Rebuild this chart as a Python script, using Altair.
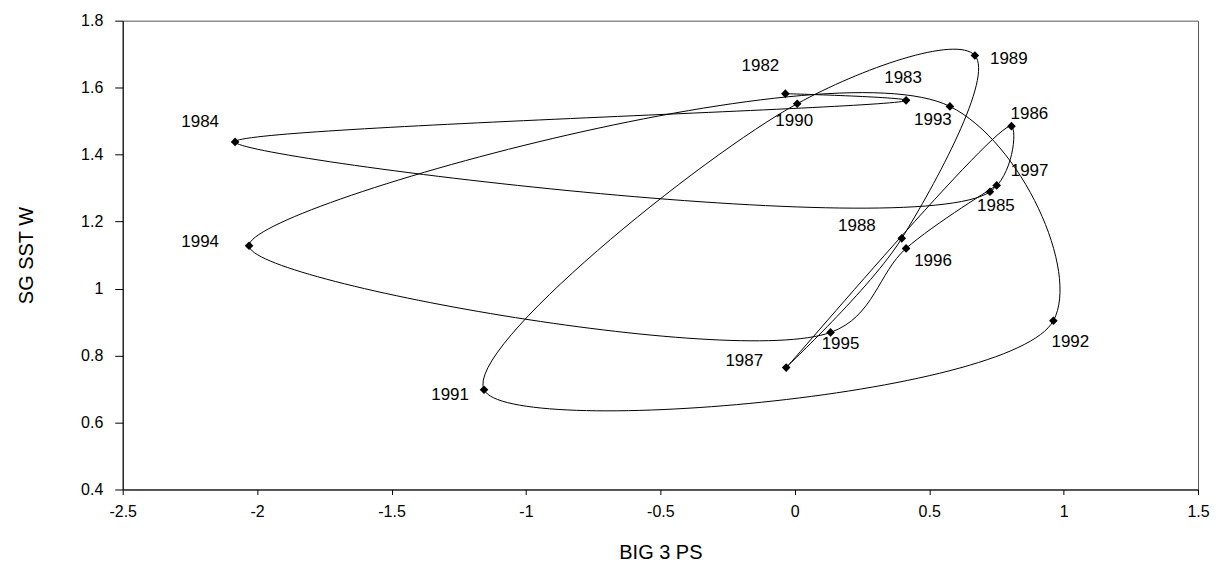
import altair as alt
import pandas as pd

# ---- data ----
years = list(range(1982, 1998))
big3_ps = [-0.035, 0.414, -2.082, 0.726, 0.806, -0.032, 0.398, 0.670,
           0.009, -1.156, 0.962, 0.577, -2.030, 0.133, 0.414, 0.751]
sg_sst_w = [1.582, 1.562, 1.438, 1.289, 1.485, 0.764, 1.150, 1.696,
            1.552, 0.698, 0.904, 1.544, 1.128, 0.869, 1.120, 1.308]
x_ticks = [-2.5, -2, -1.5, -1, -0.5, 0, 0.5, 1, 1.5]
y_ticks = [0.4, 0.6, 0.8, 1, 1.2, 1.4, 1.6, 1.8]

# label placement (style): pixel offsets of each year label from its point
label_offsets = {
    1982: (-25, -28), 1983: (-3, -22), 1984: (-35, -20), 1985: (6, 14),
    1986: (18, -12), 1987: (-42, -7), 1988: (-45, -12), 1989: (34, 4),
    1990: (-3, 17), 1991: (-34, 5), 1992: (17, 21), 1993: (-17, 14),
    1994: (-49, -4), 1995: (10, 12), 1996: (27, 13), 1997: (33, -14),
}

df = pd.DataFrame({"year": years, "x": big3_ps, "y": sg_sst_w})

FONT = "Liberation Sans"
xs = alt.Scale(domain=[-2.5, 1.5], nice=False, zero=False)
ys = alt.Scale(domain=[0.4, 1.8], nice=False, zero=False)

x_axis = alt.Axis(
    values=x_ticks, labelExpr="'' + datum.value", grid=False,
    tickSize=5, labelPadding=9, labelFontSize=16, labelFont=FONT,
    labelColor="black", domainColor="black", tickColor="black",
    labelFlush=False, labelOverlap=False,
    title="BIG 3 PS", titleFont=FONT, titleFontSize=20,
    titleFontWeight="normal", titleColor="black",
    titleY=69, titleBaseline="alphabetic",
)
y_axis = alt.Axis(
    values=y_ticks, labelExpr="'' + datum.value", grid=False,
    tickSize=8, labelPadding=12, labelFontSize=16, labelFont=FONT,
    labelColor="black", domainColor="black", tickColor="black",
    labelFlush=False, labelOverlap=False,
    title="SG SST W", titleFont=FONT, titleFontSize=20,
    titleFontWeight="normal", titleColor="black",
    titleX=-90, titleY=235, titleBaseline="alphabetic",
)

base = alt.Chart(df)

line = base.mark_line(interpolate="catmull-rom", color="black", strokeWidth=1).encode(
    x=alt.X("x:Q", scale=xs, axis=x_axis),
    y=alt.Y("y:Q", scale=ys, axis=y_axis),
    order=alt.Order("year:Q"),
)

points = base.mark_point(shape="diamond", filled=True, size=75, color="black", opacity=1).encode(
    x=alt.X("x:Q", scale=xs),
    y=alt.Y("y:Q", scale=ys),
)

labels = []
for yr in years:
    dx, dy = label_offsets[yr]
    labels.append(
        base.transform_filter(alt.datum.year == yr).mark_text(
            dx=dx, dy=dy, font=FONT, fontSize=17, color="black",
            align="center", baseline="middle",
        ).encode(
            x=alt.X("x:Q", scale=xs),
            y=alt.Y("y:Q", scale=ys),
            text=alt.Text("year:N"),
        )
    )

chart = alt.layer(line, points, *labels).properties(
    width=1078, height=470,
    autosize=alt.AutoSizeParams(type="none"),
    padding={"left": 115, "top": 12, "right": 12, "bottom": 74},
    background="white",
).configure_view(stroke="#555555", strokeWidth=1)

chart.save("out.html", embed_options={"renderer": "svg", "actions": False})
